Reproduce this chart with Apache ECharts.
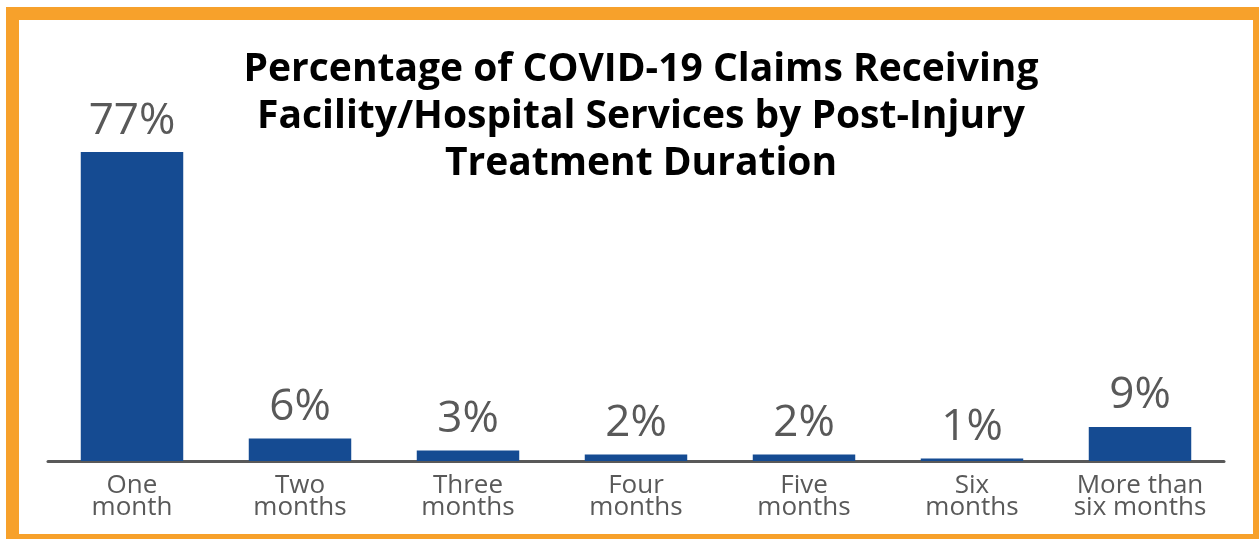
<!DOCTYPE html>
<html>
<head>
<meta charset="utf-8">
<script src="https://cdn.jsdelivr.net/npm/echarts@6/dist/echarts.min.js"></script>
<style>
  html, body { margin: 0; padding: 0; background: #fff; }
  #chart { width: 1259px; height: 539px; }
</style>
</head>
<body>
<div id="chart"></div>
<script>
const categories = ['One\nmonth', 'Two\nmonths', 'Three\nmonths', 'Four\nmonths', 'Five\nmonths', 'Six\nmonths', 'More than\nsix months'];
// bar heights (labels show them rounded)
const values = [77, 5.6, 2.6, 1.6, 1.6, 0.6, 8.5];
const titleLines = ['Percentage of COVID-19 Claims Receiving', 'Facility/Hospital Services by Post-Injury', 'Treatment Duration'];

const chart = echarts.init(document.getElementById('chart'));

const option = {
  animation: false,
  backgroundColor: '#fff',
  title: {
    text: titleLines.join('\n'),
    left: 636,
    textAlign: 'center',
    top: 41,
    textStyle: {
      fontFamily: 'Open Sans',
      fontWeight: 'bold',
      fontSize: 39,
      lineHeight: 47,
      color: '#000'
    }
  },
  graphic: [
    {
      type: 'rect',
      shape: { x: 12.5, y: 13.5, width: 1247, height: 527 },
      style: { fill: 'none', stroke: '#F7A12B', lineWidth: 13 },
      z: 100
    }
  ],
  grid: {
    left: 48,
    right: 35,
    top: 152,
    bottom: 78
  },
  xAxis: {
    type: 'category',
    data: categories,
    axisLine: { lineStyle: { color: '#595959', width: 3 } },
    axisTick: { show: false },
    axisLabel: {
      interval: 0,
      margin: 14,
      fontFamily: 'Open Sans',
      fontSize: 26,
      lineHeight: 22,
      color: '#595959'
    }
  },
  yAxis: {
    type: 'value',
    min: 0,
    max: 77,
    show: false,
    splitLine: { show: false }
  },
  series: [
    {
      type: 'bar',
      data: values,
      barWidth: '61%',
      itemStyle: { color: '#154B92' },
      label: {
        show: true,
        position: 'top',
        distance: 9,
        fontFamily: 'Open Sans',
        fontSize: 44,
        color: '#595959',
        formatter: (p) => Math.round(p.value) + '%'
      }
    }
  ]
};

chart.setOption(option);
</script>
</body>
</html>
